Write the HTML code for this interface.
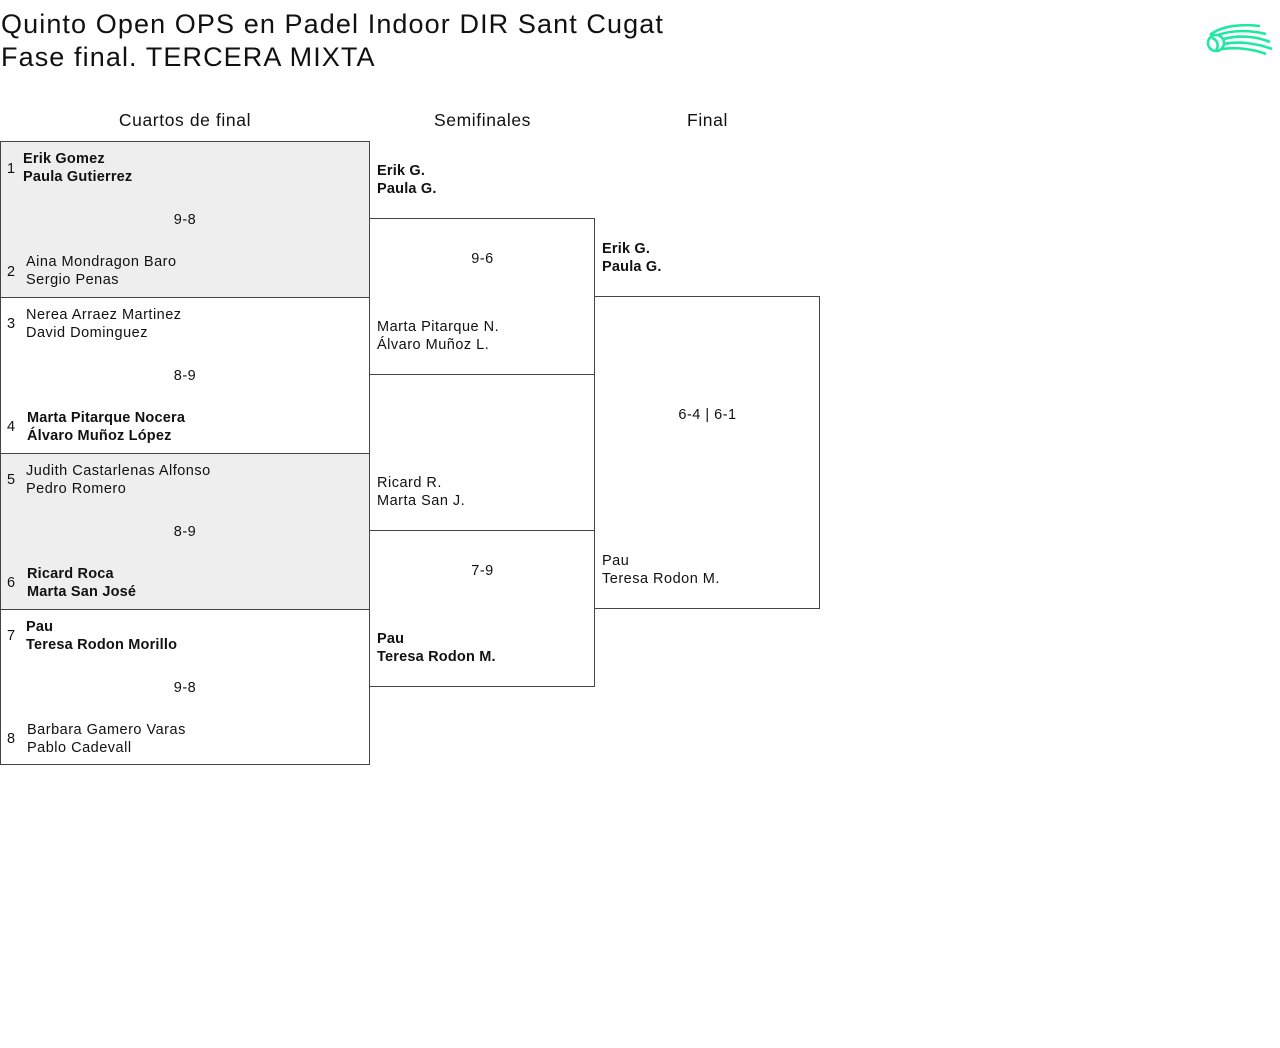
<!DOCTYPE html>
<html><head><meta charset="utf-8"><style>
body{margin:0;width:1280px;height:1048px;background:#fff;position:relative;font-family:"Liberation Sans",sans-serif;color:#111;overflow:hidden}
.a{position:absolute}
.bx{position:absolute;border:1px solid #444;box-sizing:border-box}
.t{position:absolute;font-size:14.5px;line-height:18px;white-space:nowrap;letter-spacing:0.5px;margin-top:2px}
.b{font-weight:bold;letter-spacing:0.2px}
.h{position:absolute;font-size:17.5px;line-height:20px;text-align:center;letter-spacing:0.6px;margin-top:1px}
</style></head><body>
<div class="a" style="left:1px;top:8px;font-size:27px;line-height:33px;letter-spacing:1.1px">Quinto Open OPS en Padel Indoor DIR Sant Cugat<br>Fase final. TERCERA MIXTA</div>
<svg class="a" style="left:1204px;top:22px" width="70" height="38" viewBox="0 0 70 38">
<g fill="none" stroke="#1de9a0" stroke-width="2.6">
<circle cx="12" cy="21" r="8"/><path d="M8 16c6 2 7 8 4 12"/>
<path d="M6 13C18 3 40 2 56 4"/><path d="M14 13C28 8 46 8 62 12"/><path d="M20 17C34 13 52 14 66 20"/><path d="M20 22C34 19 52 21 68 27"/><path d="M18 27C32 25 50 27 62 32"/>
</g></svg>
<div class="h" style="left:0;width:370px;top:109px">Cuartos de final</div>
<div class="h" style="left:370px;width:225px;top:109px">Semifinales</div>
<div class="h" style="left:595px;width:225px;top:109px">Final</div>

<div class="bx" style="left:0;top:141px;width:370px;height:157px;background:#eee"></div>
<div class="bx" style="left:0;top:297px;width:370px;height:157px"></div>
<div class="bx" style="left:0;top:453px;width:370px;height:157px;background:#eee"></div>
<div class="bx" style="left:0;top:609px;width:370px;height:156px"></div>
<div class="bx" style="left:369px;top:218px;width:226px;height:157px"></div>
<div class="bx" style="left:369px;top:530px;width:226px;height:157px"></div>
<div class="bx" style="left:594px;top:296px;width:226px;height:313px"></div>

<div class="t" style="left:7px;top:158px">1</div><div class="t b" style="left:23px;top:148px">Erik Gomez<br>Paula Gutierrez</div>
<div class="t" style="left:0;width:370px;text-align:center;top:209px">9-8</div>
<div class="t" style="left:7px;top:261px">2</div><div class="t" style="left:26px;top:251px">Aina Mondragon Baro<br>Sergio Penas</div>

<div class="t" style="left:7px;top:313px">3</div><div class="t" style="left:26px;top:304px">Nerea Arraez Martinez<br>David Dominguez</div>
<div class="t" style="left:0;width:370px;text-align:center;top:365px">8-9</div>
<div class="t" style="left:7px;top:416px">4</div><div class="t b" style="left:27px;top:407px">Marta Pitarque Nocera<br>Álvaro Muñoz López</div>

<div class="t" style="left:7px;top:469px">5</div><div class="t" style="left:26px;top:460px">Judith Castarlenas Alfonso<br>Pedro Romero</div>
<div class="t" style="left:0;width:370px;text-align:center;top:521px">8-9</div>
<div class="t" style="left:7px;top:572px">6</div><div class="t b" style="left:27px;top:563px">Ricard Roca<br>Marta San José</div>

<div class="t" style="left:7px;top:625px">7</div><div class="t b" style="left:26px;top:616px">Pau<br>Teresa Rodon Morillo</div>
<div class="t" style="left:0;width:370px;text-align:center;top:677px">9-8</div>
<div class="t" style="left:7px;top:728px">8</div><div class="t" style="left:27px;top:719px">Barbara Gamero Varas<br>Pablo Cadevall</div>

<div class="t b" style="left:377px;top:160px">Erik G.<br>Paula G.</div>
<div class="t" style="left:370px;width:225px;text-align:center;top:248px">9-6</div>
<div class="t" style="left:377px;top:316px">Marta Pitarque N.<br>Álvaro Muñoz L.</div>
<div class="t" style="left:377px;top:472px">Ricard R.<br>Marta San J.</div>
<div class="t" style="left:370px;width:225px;text-align:center;top:560px">7-9</div>
<div class="t b" style="left:377px;top:628px">Pau<br>Teresa Rodon M.</div>

<div class="t b" style="left:602px;top:238px">Erik G.<br>Paula G.</div>
<div class="t" style="left:595px;width:225px;text-align:center;top:404px">6-4 | 6-1</div>
<div class="t" style="left:602px;top:550px">Pau<br>Teresa Rodon M.</div>
</body></html>
